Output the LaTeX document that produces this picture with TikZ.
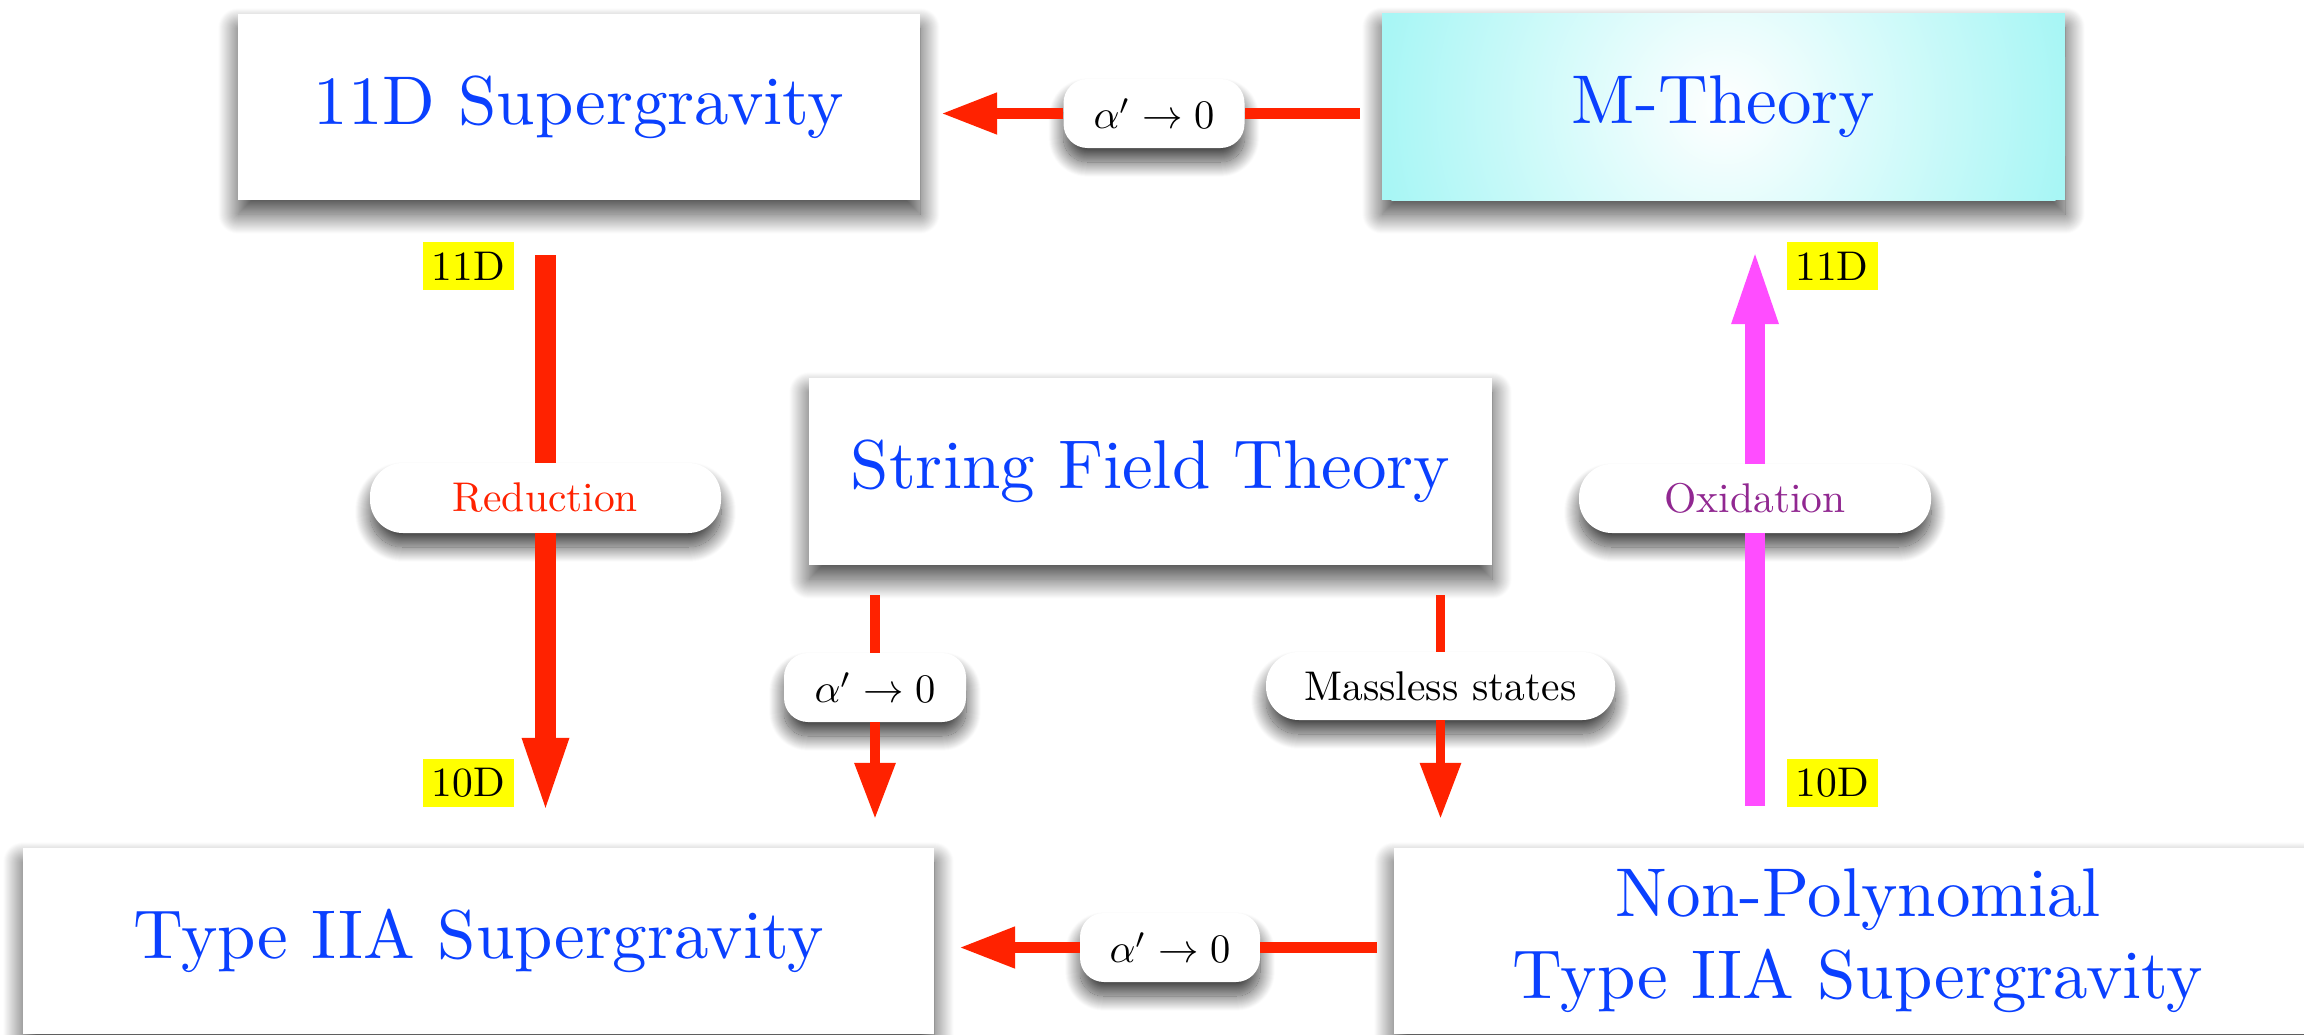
\documentclass[tikz,border=0pt]{standalone}
\usepackage{graphicx}
\usetikzlibrary{arrows.meta,shadows.blur}
\definecolor{ared}{RGB}{255,34,0}
\definecolor{amag}{RGB}{255,77,255}
\definecolor{tblue}{RGB}{10,64,255}
\definecolor{opurple}{RGB}{145,40,145}
\definecolor{mcyan}{RGB}{168,246,245}
\definecolor{lyellow}{RGB}{255,255,0}
\newcommand\bigtxt[1]{\scalebox{6.9}{\normalsize #1}}
\newcommand\smtxt[1]{\scalebox{4.15}{\normalsize #1}}
\newcommand\alimit{\scalebox{4.05}{\normalsize$\alpha'\to0$}}
\tikzset{
  theory/.style={rectangle, fill=white, inner sep=0pt, text=tblue, align=center,
    blur shadow={shadow xshift=0pt, shadow yshift=-14pt, shadow blur radius=20pt,
      shadow blur steps=40, shadow opacity=75}},
  pillsq/.style={rectangle, rounded corners=24pt, fill=white, inner sep=0pt,
    minimum height=69pt,
    blur shadow={shadow xshift=0pt, shadow yshift=-14pt, shadow blur radius=15pt,
      shadow blur steps=30, shadow opacity=75}},
  pillrd/.style={pillsq, rounded corners=33pt},
  ylab/.style={rectangle, fill=lyellow, inner sep=0pt, minimum width=91pt, minimum height=48pt},
  redline/.style={draw=ared, line width=#1},
  magline/.style={draw=amag, line width=20.5pt},
  smalltip/.style={-{Triangle[length=56pt,width=39pt]}},
  bigtip/.style={-{Triangle[length=81pt,width=40pt]}},
}
\begin{document}
\begin{tikzpicture}[x=1pt,y=-1pt]
\useasboundingbox (0,0) rectangle (2304,1034);
\clip (0,0) rectangle (2304,1034);
% theory boxes
\node[theory, minimum width=682pt, minimum height=186pt] (A) at (579,107) {\bigtxt{11D Supergravity}};
\node[theory, fill=mcyan, minimum width=683pt, minimum height=187pt,
  path picture={\shade[inner color=white, outer color=mcyan] (path picture bounding box.center) circle (345pt);}]
  (M) at (1723.5,106.5) {\bigtxt{M-Theory}};
\node[theory, minimum width=683pt, minimum height=187pt] (S) at (1150.5,471.5) {\bigtxt{String Field Theory}};
\node[theory, minimum width=911pt, minimum height=186pt] (T) at (478.5,941) {\bigtxt{Type IIA Supergravity}};
\node[theory, minimum width=928pt, minimum height=186pt] (N) at (1858,941)
  {\bigtxt{\begin{tabular}{@{}c@{}}Non-Polynomial\\Type IIA Supergravity\end{tabular}}};
% pills
\node[pillsq, minimum width=181pt] (P1) at (1154,113.5) {\alimit};
\node[pillrd, minimum width=351pt, minimum height=70pt, text=ared] (P2) at (545.5,498) {\smtxt{Reduction}};
\node[pillsq, minimum width=182pt] (P3) at (875,687.5) {\alimit};
\node[pillrd, minimum width=349pt, minimum height=68pt] (P4) at (1440.5,686) {\smtxt{Massless states}};
\node[pillrd, minimum width=352pt, text=opurple] (P5) at (1755,498.5) {\smtxt{Oxidation}};
\node[pillsq, minimum width=180pt] (P6) at (1170,947.5) {\alimit};
% yellow labels
\node[ylab] (Y1) at (468.5,266) {\smtxt{11D}};
\node[ylab] (Y2) at (1832,266) {\smtxt{11D}};
\node[ylab] (Y3) at (468.5,783) {\smtxt{10D}};
\node[ylab] (Y4) at (1832.5,783) {\smtxt{10D}};
% connectors
\draw[redline=11pt, shorten <=22pt] (M.west |- P1) -- (P1.east);
\draw[redline=11pt, smalltip, shorten >=21pt] (P1.west) -- (A.east |- P1);
\draw[redline=11pt, shorten <=17pt] (N.west |- P6) -- (P6.east);
\draw[redline=11pt, smalltip, shorten >=25pt] (P6.west) -- (T.east |- P6);
\draw[redline=21pt, shorten <=55pt] (A.south -| P2) -- (P2.north);
\draw[redline=21pt, bigtip, shorten >=29pt] (P2.south) -- (T.north -| P2);
\draw[redline=9.5pt, shorten <=30pt] (S.south -| P3) -- (P3.north);
\draw[redline=9.5pt, smalltip, shorten >=29pt] (P3.south) -- (T.north -| P3);
\draw[redline=9.5pt, shorten <=30pt] (S.south -| P4) -- (P4.north);
\draw[redline=9.5pt, smalltip, shorten >=29pt] (P4.south) -- (N.north -| P4);
\draw[magline, shorten <=42pt] (N.north -| P5) -- (P5.south);
\draw[magline, bigtip, shorten >=43pt] (P5.north) -- (M.south -| P5);
\end{tikzpicture}
\end{document}
